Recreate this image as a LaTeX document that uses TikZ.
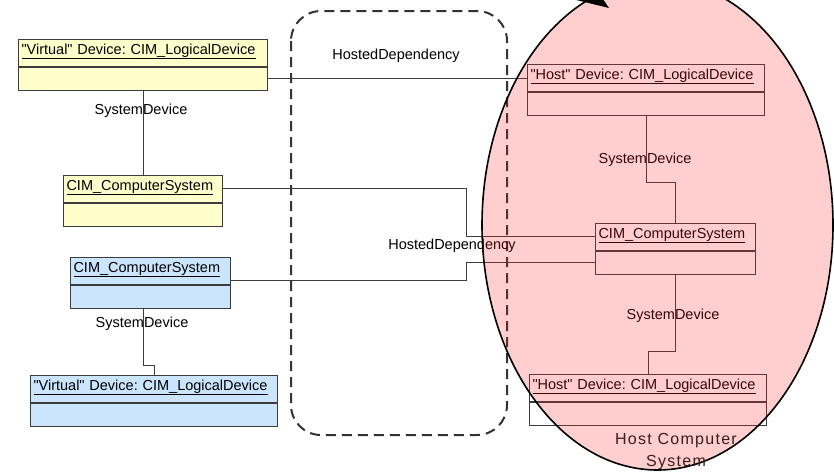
\documentclass[tikz,border=0pt]{standalone}
\usepackage{fontspec}
\setmainfont{Liberation Sans}
\usepackage{tikz}
\usetikzlibrary{positioning}
\frenchspacing
\definecolor{yelfill}{HTML}{FFFFCC}
\definecolor{bluefill}{HTML}{CCE5FF}
\definecolor{edgegray}{HTML}{3C3C3C}
\definecolor{hostred}{HTML}{FF1E1E}
\definecolor{hosttxt}{HTML}{3A1E1E}
\newcommand{\boxfont}{\fontsize{14.5}{17}\selectfont}
\newcommand{\hostfont}{\fontsize{16}{22}\selectfont\addfontfeature{LetterSpace=8}}
\newcommand{\qt}{\textquotedbl}
\tikzset{
  ctitle/.style={draw=edgegray,line width=1pt,rectangle,anchor=north west,
    text width=#1,minimum height=26.5pt,inner xsep=3pt,inner ysep=0pt,
    text height=11pt,text depth=8pt,align=left,font=\boxfont},
  cbody/.style={draw=edgegray,line width=1pt,rectangle,minimum width=#1,
    minimum height=23.5pt,inner sep=0pt},
  conn/.style={draw=edgegray,line width=1pt},
  lbl/.style={font=\boxfont,inner sep=0pt},
  dashframe/.style={draw=black!80,line width=2pt,dash pattern=on 10pt off 6pt,
    rounded corners=30pt}
}

\begin{document}
\begin{tikzpicture}[x=1pt,y=-1pt]
\useasboundingbox (0,0) rectangle (834,474);
\clip (0,0) rectangle (834,474);
%dashed frame
\draw[dashframe](291,11) rectangle (507,435);
%virtual side
\node[ctitle=243pt,fill=yelfill] (vld) at (18,39) {\underline{\qt Virtual\qt{} Device: CIM\_LogicalDevice}};
\node[cbody=249pt,fill=yelfill,below=0pt of vld] (vldb) {};
\node[ctitle=153pt,fill=yelfill] (ycs) at (63,175) {\underline{CIM\_ComputerSystem}};
\node[cbody=159pt,fill=yelfill,below=0pt of ycs] (ycsb) {};
\node[ctitle=154pt,fill=bluefill] (bcs) at (70,257) {\underline{CIM\_ComputerSystem}};
\node[cbody=160pt,fill=bluefill,below=0pt of bcs] (bcsb) {};
\node[ctitle=241pt,fill=bluefill] (bld) at (30,375) {\underline{\qt Virtual\qt{} Device: CIM\_LogicalDevice}};
\node[cbody=247pt,fill=bluefill,below=0pt of bld] (bldb) {};
%host side
\node[ctitle=231pt,fill=white] (hld) at (527,64) {\underline{\qt Host\qt{} Device: CIM\_LogicalDevice}};
\node[cbody=237pt,fill=white,below=0pt of hld] (hldb) {};
\node[ctitle=154pt,fill=white] (hcs) at (595,223) {\underline{CIM\_ComputerSystem}};
\node[cbody=160pt,fill=white,below=0pt of hcs] (hcsb) {};
\node[ctitle=231pt,fill=white] (hld2) at (529,374) {\underline{\qt Host\qt{} Device: CIM\_LogicalDevice}};
\node[cbody=237pt,fill=white,below=0pt of hld2] (hld2b) {};
%connectors
\coordinate (bend) at (466,230);
\coordinate (bcsout) at ([yshift=4pt]bcsb.north east);
\draw[conn](vldb.south)--(ycs.north);
\draw[conn](vldb.east)--(vldb.east -| hld.west);
\draw[conn](ycs.east)--(ycs.east -| bend) |- (hcs.west);
\draw[conn](bcsout)--(bcsout -| bend) |- (hcsb.west);
\draw[conn]([xshift=-7pt]bcsb.south)--++(0,56) -| (bld.north);
\draw[conn](hldb.south)--++(0,66) -| (hcs.north);
\draw[conn](hcsb.south)--++(0,76) -| (hld2.north);
%labels
\node[lbl] (sd1) at (141,111) {SystemDevice};
\node[lbl] (sd2) at (142,324) {SystemDevice};
\node[lbl] (sd3) at (645,160) {SystemDevice};
\node[lbl] (sd4) at (673,316) {SystemDevice};
\node[lbl] (hd1) at (396,56) {HostedDependency};
\node[lbl] (hd2) at (452,246) {HostedDependency};
%host computer system
\fill[hostred,fill opacity=0.22](657.5,225) ellipse [x radius=175.5pt,y radius=245pt];
\draw[line width=1.6pt](657.5,225) ellipse [x radius=175.5pt,y radius=245pt];
\fill(609,8)--(560,-4)--(594,-14)--cycle;
\node[font=\hostfont,text=hosttxt,align=center,inner sep=0pt] (hsys) at (676,452) {Host Computer\\System};
\end{tikzpicture}
\end{document}
